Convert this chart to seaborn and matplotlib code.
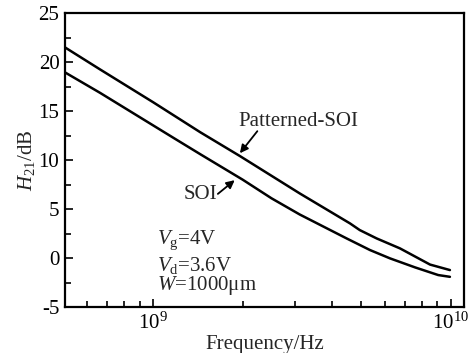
import numpy as np
import pandas as pd
import matplotlib
matplotlib.use("Agg")
import matplotlib.pyplot as plt
import seaborn as sns
from matplotlib.ticker import LogLocator, MultipleLocator, LogFormatterMathtext

# ---- data ----
freq_patterned = [5.05e8, 6.62e8, 1.0e9, 1.44e9, 1.96e9, 3.11e9, 4.59e9, 4.95e9,
                  5.64e9, 6.76e9, 8.53e9, 9.95e9]
h21_patterned = [21.5, 19.26, 15.9, 12.84, 10.4, 6.6, 3.54, 2.86,
                 2.01, 0.99, -0.66, -1.22]
freq_soi = [5.05e8, 6.62e8, 1.18e9, 1.44e9, 2.0e9, 2.5e9, 3.11e9, 4.47e9,
            5.36e9, 6.26e9, 7.6e9, 9.09e9, 9.95e9]
h21_soi = [18.95, 16.87, 12.2, 10.6, 8.0, 6.1, 4.45, 2.01,
           0.82, -0.03, -0.95, -1.73, -1.91]
series_names = ["Patterned-SOI", "SOI"]
y_ticks = [-5, 0, 5, 10, 15, 20, 25]

df = pd.concat([
    pd.DataFrame({"f": freq_patterned, "h": h21_patterned, "s": series_names[0]}),
    pd.DataFrame({"f": freq_soi, "h": h21_soi, "s": series_names[1]}),
])

sns.set_style("ticks")
plt.rcParams["font.family"] = ["Liberation Serif", "DejaVu Serif"]
plt.rcParams["mathtext.fontset"] = "custom"
plt.rcParams["mathtext.rm"] = "Liberation Serif"
plt.rcParams["mathtext.it"] = "Liberation Serif:italic"
plt.rcParams["mathtext.bf"] = "Liberation Serif:bold"
plt.rcParams["axes.unicode_minus"] = False

fig = plt.figure(figsize=(4.74, 3.53), dpi=100)
ax = fig.add_axes([0.137, 0.130, 0.842, 0.833])

sns.lineplot(data=df, x="f", y="h", hue="s", units="s", estimator=None,
             palette=["black", "black"], linewidth=1.8, legend=False,
             sort=False, ax=ax)

ax.set_xscale("log")
ax.set_xlim(5.05e8, 1.11e10)
ax.set_ylim(-5, 25)
ax.set_yticks(y_ticks)
ax.yaxis.set_minor_locator(MultipleLocator(2.5))
ax.xaxis.set_major_locator(LogLocator(base=10, numticks=10))
ax.xaxis.set_minor_locator(LogLocator(base=10, subs=np.arange(2, 10), numticks=20))
ax.xaxis.set_major_formatter(LogFormatterMathtext())

ax.tick_params(axis="both", which="both", direction="in", labelsize=15,
               top=False, right=False, width=1.2, colors="black")
ax.tick_params(axis="both", which="major", length=6, pad=4)
ax.tick_params(axis="both", which="minor", length=4)
for sp in ax.spines.values():
    sp.set_linewidth(1.6)
    sp.set_color("black")

ax.set_xlabel("Frequency/Hz", fontsize=15, labelpad=1)
ax.set_ylabel(r"$H_{21}$/dB", fontsize=15, labelpad=1)

arrow = dict(arrowstyle="-|>", color="black", lw=1.3,
             mutation_scale=12, shrinkA=0, shrinkB=0)
ax.text(1.93e9, 13.9, "Patterned-SOI", fontsize=15, ha="left", va="center")
ax.annotate("", xy=(1.957e9, 10.7), xytext=(2.24e9, 12.95), arrowprops=arrow)
ax.text(1.44e9, 6.45, "SOI", fontsize=15, ha="center", va="center")
ax.annotate("", xy=(1.88e9, 7.95), xytext=(1.65e9, 6.55), arrowprops=arrow)

ax.text(0.231, 0.228, r"$V_\mathrm{g}$=4V", transform=ax.transAxes, fontsize=15, va="center")
ax.text(0.231, 0.143, r"$V_\mathrm{d}$=3.6V", transform=ax.transAxes, fontsize=15, va="center")
ax.text(0.231, 0.075, r"$W$=1000μm", transform=ax.transAxes, fontsize=15, va="center")

fig.savefig("out.png", dpi=100)
